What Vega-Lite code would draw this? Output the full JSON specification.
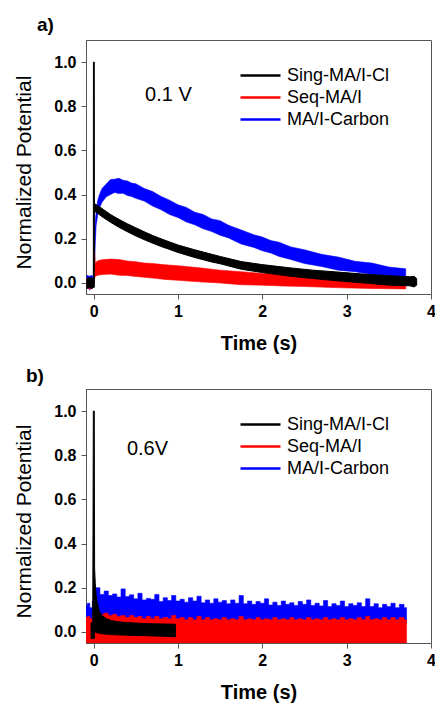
{
  "$schema": "https://vega.github.io/schema/vega-lite/v6.json",
  "padding": {"left": 13, "top": 15, "right": 0, "bottom": 0},
  "config": {
    "font": "Liberation Sans",
    "view": {"stroke": "#555", "strokeWidth": 1},
    "axis": {"domainColor": "#555", "tickColor": "#555", "tickSize": 5, "labelFont": "Liberation Sans", "labelFontSize": 16, "labelFontWeight": "bold", "labelColor": "#000", "titleFont": "Liberation Sans", "titleFontSize": 20, "titleColor": "#000", "titleFontWeight": "normal", "grid": false, "labelPadding": 4},
    "axisX": {"titleFontWeight": "bold", "titlePadding": 14, "labelFlush": false},
    "axisY": {"titlePadding": 19, "labelPadding": 5, "titleFontSize": 21, "titleY": 132},
    "legend": {"orient": "none", "legendX": 173, "legendY": 24, "symbolType": "M-3,0H1", "symbolSize": 400, "symbolStrokeWidth": 2.5, "labelFont": "Liberation Sans", "labelFontSize": 18, "labelColor": "#000", "labelOffset": 5, "rowPadding": 1}
  },
  "datasets": {
    "aB": [
      {"t": -0.08, "lo": -0.02, "hi": 0.035, "s": "MA/I-Carbon"},
      {"t": -0.05, "lo": -0.03, "hi": 0.03, "s": "MA/I-Carbon"},
      {"t": -0.02, "lo": -0.025, "hi": 0.035, "s": "MA/I-Carbon"},
      {"t": 0, "lo": -0.02, "hi": 0.02, "s": "MA/I-Carbon"},
      {"t": 0.01, "lo": 0.05, "hi": 0.2, "s": "MA/I-Carbon"},
      {"t": 0.02, "lo": 0.18, "hi": 0.28, "s": "MA/I-Carbon"},
      {"t": 0.03, "lo": 0.26, "hi": 0.32, "s": "MA/I-Carbon"},
      {"t": 0.05, "lo": 0.31, "hi": 0.375, "s": "MA/I-Carbon"},
      {"t": 0.07, "lo": 0.34, "hi": 0.4, "s": "MA/I-Carbon"},
      {"t": 0.1, "lo": 0.365, "hi": 0.428, "s": "MA/I-Carbon"},
      {"t": 0.15, "lo": 0.39, "hi": 0.448, "s": "MA/I-Carbon"},
      {"t": 0.2, "lo": 0.4, "hi": 0.468, "s": "MA/I-Carbon"},
      {"t": 0.25, "lo": 0.41, "hi": 0.47, "s": "MA/I-Carbon"},
      {"t": 0.3, "lo": 0.405, "hi": 0.474, "s": "MA/I-Carbon"},
      {"t": 0.35, "lo": 0.406, "hi": 0.465, "s": "MA/I-Carbon"},
      {"t": 0.4, "lo": 0.396, "hi": 0.462, "s": "MA/I-Carbon"},
      {"t": 0.45, "lo": 0.392, "hi": 0.452, "s": "MA/I-Carbon"},
      {"t": 0.5, "lo": 0.383, "hi": 0.449, "s": "MA/I-Carbon"},
      {"t": 0.6, "lo": 0.371, "hi": 0.428, "s": "MA/I-Carbon"},
      {"t": 0.7, "lo": 0.348, "hi": 0.414, "s": "MA/I-Carbon"},
      {"t": 0.8, "lo": 0.332, "hi": 0.392, "s": "MA/I-Carbon"},
      {"t": 0.9, "lo": 0.31, "hi": 0.375, "s": "MA/I-Carbon"},
      {"t": 1.0, "lo": 0.296, "hi": 0.354, "s": "MA/I-Carbon"},
      {"t": 1.1, "lo": 0.276, "hi": 0.342, "s": "MA/I-Carbon"},
      {"t": 1.2, "lo": 0.263, "hi": 0.32, "s": "MA/I-Carbon"},
      {"t": 1.3, "lo": 0.245, "hi": 0.31, "s": "MA/I-Carbon"},
      {"t": 1.4, "lo": 0.233, "hi": 0.29, "s": "MA/I-Carbon"},
      {"t": 1.5, "lo": 0.216, "hi": 0.282, "s": "MA/I-Carbon"},
      {"t": 1.6, "lo": 0.204, "hi": 0.261, "s": "MA/I-Carbon"},
      {"t": 1.75, "lo": 0.176, "hi": 0.24, "s": "MA/I-Carbon"},
      {"t": 1.9, "lo": 0.161, "hi": 0.218, "s": "MA/I-Carbon"},
      {"t": 2.0, "lo": 0.146, "hi": 0.208, "s": "MA/I-Carbon"},
      {"t": 2.1, "lo": 0.136, "hi": 0.192, "s": "MA/I-Carbon"},
      {"t": 2.2, "lo": 0.12, "hi": 0.184, "s": "MA/I-Carbon"},
      {"t": 2.34, "lo": 0.106, "hi": 0.163, "s": "MA/I-Carbon"},
      {"t": 2.5, "lo": 0.088, "hi": 0.15, "s": "MA/I-Carbon"},
      {"t": 2.7, "lo": 0.075, "hi": 0.13, "s": "MA/I-Carbon"},
      {"t": 2.9, "lo": 0.058, "hi": 0.117, "s": "MA/I-Carbon"},
      {"t": 3.1, "lo": 0.051, "hi": 0.098, "s": "MA/I-Carbon"},
      {"t": 3.3, "lo": 0.038, "hi": 0.09, "s": "MA/I-Carbon"},
      {"t": 3.5, "lo": 0.033, "hi": 0.072, "s": "MA/I-Carbon"},
      {"t": 3.7, "lo": 0.024, "hi": 0.064, "s": "MA/I-Carbon"}
    ],
    "aR": [
      {"t": -0.08, "lo": -0.02, "hi": 0.02, "s": "Seq-MA/I"},
      {"t": -0.04, "lo": -0.028, "hi": 0.015, "s": "Seq-MA/I"},
      {"t": -0.001, "lo": -0.02, "hi": 0.02, "s": "Seq-MA/I"},
      {"t": 0.005, "lo": -0.01, "hi": 0.16, "s": "Seq-MA/I"},
      {"t": 0.012, "lo": 0.02, "hi": 0.14, "s": "Seq-MA/I"},
      {"t": 0.02, "lo": 0.03, "hi": 0.09, "s": "Seq-MA/I"},
      {"t": 0.05, "lo": 0.035, "hi": 0.1, "s": "Seq-MA/I"},
      {"t": 0.1, "lo": 0.038, "hi": 0.105, "s": "Seq-MA/I"},
      {"t": 0.2, "lo": 0.04, "hi": 0.108, "s": "Seq-MA/I"},
      {"t": 0.3, "lo": 0.035, "hi": 0.106, "s": "Seq-MA/I"},
      {"t": 0.4, "lo": 0.034, "hi": 0.099, "s": "Seq-MA/I"},
      {"t": 0.5, "lo": 0.029, "hi": 0.096, "s": "Seq-MA/I"},
      {"t": 0.6, "lo": 0.026, "hi": 0.09, "s": "Seq-MA/I"},
      {"t": 0.7, "lo": 0.022, "hi": 0.088, "s": "Seq-MA/I"},
      {"t": 0.85, "lo": 0.016, "hi": 0.082, "s": "Seq-MA/I"},
      {"t": 1.0, "lo": 0.012, "hi": 0.078, "s": "Seq-MA/I"},
      {"t": 1.25, "lo": 0.005, "hi": 0.069, "s": "Seq-MA/I"},
      {"t": 1.5, "lo": 0.0, "hi": 0.058, "s": "Seq-MA/I"},
      {"t": 1.75, "lo": -0.008, "hi": 0.051, "s": "Seq-MA/I"},
      {"t": 2.0, "lo": -0.01, "hi": 0.043, "s": "Seq-MA/I"},
      {"t": 2.25, "lo": -0.014, "hi": 0.04, "s": "Seq-MA/I"},
      {"t": 2.5, "lo": -0.016, "hi": 0.036, "s": "Seq-MA/I"},
      {"t": 2.94, "lo": -0.022, "hi": 0.03, "s": "Seq-MA/I"},
      {"t": 3.3, "lo": -0.025, "hi": 0.027, "s": "Seq-MA/I"},
      {"t": 3.7, "lo": -0.027, "hi": 0.022, "s": "Seq-MA/I"}
    ],
    "aK": [
      {"t": -0.08, "lo": -0.025, "hi": 0.02, "s": "Sing-MA/I-Cl"},
      {"t": -0.05, "lo": -0.02, "hi": 0.025, "s": "Sing-MA/I-Cl"},
      {"t": -0.02, "lo": -0.025, "hi": 0.02, "s": "Sing-MA/I-Cl"},
      {"t": -0.003, "lo": -0.02, "hi": 0.02, "s": "Sing-MA/I-Cl"},
      {"t": -0.002, "lo": -0.02, "hi": 1.0, "s": "Sing-MA/I-Cl"},
      {"t": 0.008, "lo": -0.02, "hi": 1.0, "s": "Sing-MA/I-Cl"},
      {"t": 0.01, "lo": 0.325, "hi": 0.36, "s": "Sing-MA/I-Cl"},
      {"t": 0.05, "lo": 0.315, "hi": 0.35, "s": "Sing-MA/I-Cl"},
      {"t": 0.1, "lo": 0.3, "hi": 0.337, "s": "Sing-MA/I-Cl"},
      {"t": 0.2, "lo": 0.275, "hi": 0.31, "s": "Sing-MA/I-Cl"},
      {"t": 0.3, "lo": 0.252, "hi": 0.288, "s": "Sing-MA/I-Cl"},
      {"t": 0.4, "lo": 0.232, "hi": 0.268, "s": "Sing-MA/I-Cl"},
      {"t": 0.5, "lo": 0.213, "hi": 0.25, "s": "Sing-MA/I-Cl"},
      {"t": 0.6, "lo": 0.196, "hi": 0.232, "s": "Sing-MA/I-Cl"},
      {"t": 0.7, "lo": 0.18, "hi": 0.215, "s": "Sing-MA/I-Cl"},
      {"t": 0.8, "lo": 0.165, "hi": 0.2, "s": "Sing-MA/I-Cl"},
      {"t": 0.9, "lo": 0.152, "hi": 0.186, "s": "Sing-MA/I-Cl"},
      {"t": 1.0, "lo": 0.138, "hi": 0.172, "s": "Sing-MA/I-Cl"},
      {"t": 1.2, "lo": 0.115, "hi": 0.15, "s": "Sing-MA/I-Cl"},
      {"t": 1.4, "lo": 0.095, "hi": 0.13, "s": "Sing-MA/I-Cl"},
      {"t": 1.5, "lo": 0.087, "hi": 0.12, "s": "Sing-MA/I-Cl"},
      {"t": 1.75, "lo": 0.062, "hi": 0.097, "s": "Sing-MA/I-Cl"},
      {"t": 2.0, "lo": 0.047, "hi": 0.083, "s": "Sing-MA/I-Cl"},
      {"t": 2.34, "lo": 0.03, "hi": 0.068, "s": "Sing-MA/I-Cl"},
      {"t": 2.6, "lo": 0.02, "hi": 0.058, "s": "Sing-MA/I-Cl"},
      {"t": 2.94, "lo": 0.008, "hi": 0.048, "s": "Sing-MA/I-Cl"},
      {"t": 3.2, "lo": 0.0, "hi": 0.04, "s": "Sing-MA/I-Cl"},
      {"t": 3.5, "lo": -0.01, "hi": 0.033, "s": "Sing-MA/I-Cl"},
      {"t": 3.75, "lo": -0.013, "hi": 0.028, "s": "Sing-MA/I-Cl"},
      {"t": 3.8, "lo": -0.018, "hi": 0.03, "s": "Sing-MA/I-Cl"},
      {"t": 3.83, "lo": -0.01, "hi": 0.02, "s": "Sing-MA/I-Cl"}
    ],
    "bB": [
      {"t": -0.09, "lo": 0.04, "hi": 0.12, "s": "MA/I-Carbon"},
      {"t": -0.06, "lo": 0.04, "hi": 0.13, "s": "MA/I-Carbon"},
      {"t": -0.03, "lo": 0.04, "hi": 0.11, "s": "MA/I-Carbon"},
      {"t": 0.0, "lo": 0.04, "hi": 0.14, "s": "MA/I-Carbon"},
      {"t": 0.05, "lo": 0.04, "hi": 0.2, "s": "MA/I-Carbon"},
      {"t": 0.1, "lo": 0.04, "hi": 0.17, "s": "MA/I-Carbon"},
      {"t": 0.15, "lo": 0.04, "hi": 0.185, "s": "MA/I-Carbon"},
      {"t": 0.2, "lo": 0.04, "hi": 0.165, "s": "MA/I-Carbon"},
      {"t": 0.25, "lo": 0.04, "hi": 0.172, "s": "MA/I-Carbon"},
      {"t": 0.3, "lo": 0.04, "hi": 0.158, "s": "MA/I-Carbon"},
      {"t": 0.35, "lo": 0.04, "hi": 0.195, "s": "MA/I-Carbon"},
      {"t": 0.4, "lo": 0.04, "hi": 0.16, "s": "MA/I-Carbon"},
      {"t": 0.45, "lo": 0.04, "hi": 0.168, "s": "MA/I-Carbon"},
      {"t": 0.5, "lo": 0.04, "hi": 0.15, "s": "MA/I-Carbon"},
      {"t": 0.55, "lo": 0.04, "hi": 0.175, "s": "MA/I-Carbon"},
      {"t": 0.6, "lo": 0.04, "hi": 0.145, "s": "MA/I-Carbon"},
      {"t": 0.65, "lo": 0.04, "hi": 0.152, "s": "MA/I-Carbon"},
      {"t": 0.7, "lo": 0.04, "hi": 0.148, "s": "MA/I-Carbon"},
      {"t": 0.75, "lo": 0.04, "hi": 0.17, "s": "MA/I-Carbon"},
      {"t": 0.8, "lo": 0.04, "hi": 0.138, "s": "MA/I-Carbon"},
      {"t": 0.85, "lo": 0.04, "hi": 0.155, "s": "MA/I-Carbon"},
      {"t": 0.9, "lo": 0.04, "hi": 0.142, "s": "MA/I-Carbon"},
      {"t": 0.95, "lo": 0.04, "hi": 0.165, "s": "MA/I-Carbon"},
      {"t": 1.0, "lo": 0.04, "hi": 0.14, "s": "MA/I-Carbon"},
      {"t": 1.05, "lo": 0.04, "hi": 0.148, "s": "MA/I-Carbon"},
      {"t": 1.1, "lo": 0.04, "hi": 0.135, "s": "MA/I-Carbon"},
      {"t": 1.15, "lo": 0.04, "hi": 0.155, "s": "MA/I-Carbon"},
      {"t": 1.2, "lo": 0.04, "hi": 0.14, "s": "MA/I-Carbon"},
      {"t": 1.25, "lo": 0.04, "hi": 0.162, "s": "MA/I-Carbon"},
      {"t": 1.3, "lo": 0.04, "hi": 0.132, "s": "MA/I-Carbon"},
      {"t": 1.35, "lo": 0.04, "hi": 0.145, "s": "MA/I-Carbon"},
      {"t": 1.4, "lo": 0.04, "hi": 0.13, "s": "MA/I-Carbon"},
      {"t": 1.45, "lo": 0.04, "hi": 0.15, "s": "MA/I-Carbon"},
      {"t": 1.5, "lo": 0.04, "hi": 0.135, "s": "MA/I-Carbon"},
      {"t": 1.55, "lo": 0.04, "hi": 0.142, "s": "MA/I-Carbon"},
      {"t": 1.6, "lo": 0.04, "hi": 0.128, "s": "MA/I-Carbon"},
      {"t": 1.65, "lo": 0.04, "hi": 0.145, "s": "MA/I-Carbon"},
      {"t": 1.7, "lo": 0.04, "hi": 0.13, "s": "MA/I-Carbon"},
      {"t": 1.75, "lo": 0.04, "hi": 0.165, "s": "MA/I-Carbon"},
      {"t": 1.8, "lo": 0.04, "hi": 0.128, "s": "MA/I-Carbon"},
      {"t": 1.85, "lo": 0.04, "hi": 0.14, "s": "MA/I-Carbon"},
      {"t": 1.9, "lo": 0.04, "hi": 0.125, "s": "MA/I-Carbon"},
      {"t": 1.95, "lo": 0.04, "hi": 0.138, "s": "MA/I-Carbon"},
      {"t": 2.0, "lo": 0.04, "hi": 0.13, "s": "MA/I-Carbon"},
      {"t": 2.05, "lo": 0.04, "hi": 0.15, "s": "MA/I-Carbon"},
      {"t": 2.1, "lo": 0.04, "hi": 0.122, "s": "MA/I-Carbon"},
      {"t": 2.15, "lo": 0.04, "hi": 0.135, "s": "MA/I-Carbon"},
      {"t": 2.2, "lo": 0.04, "hi": 0.12, "s": "MA/I-Carbon"},
      {"t": 2.25, "lo": 0.04, "hi": 0.14, "s": "MA/I-Carbon"},
      {"t": 2.3, "lo": 0.04, "hi": 0.125, "s": "MA/I-Carbon"},
      {"t": 2.35, "lo": 0.04, "hi": 0.132, "s": "MA/I-Carbon"},
      {"t": 2.4, "lo": 0.04, "hi": 0.12, "s": "MA/I-Carbon"},
      {"t": 2.45, "lo": 0.04, "hi": 0.138, "s": "MA/I-Carbon"},
      {"t": 2.5, "lo": 0.04, "hi": 0.125, "s": "MA/I-Carbon"},
      {"t": 2.55, "lo": 0.04, "hi": 0.145, "s": "MA/I-Carbon"},
      {"t": 2.6, "lo": 0.04, "hi": 0.12, "s": "MA/I-Carbon"},
      {"t": 2.65, "lo": 0.04, "hi": 0.13, "s": "MA/I-Carbon"},
      {"t": 2.7, "lo": 0.04, "hi": 0.118, "s": "MA/I-Carbon"},
      {"t": 2.75, "lo": 0.04, "hi": 0.142, "s": "MA/I-Carbon"},
      {"t": 2.8, "lo": 0.04, "hi": 0.115, "s": "MA/I-Carbon"},
      {"t": 2.85, "lo": 0.04, "hi": 0.128, "s": "MA/I-Carbon"},
      {"t": 2.9, "lo": 0.04, "hi": 0.12, "s": "MA/I-Carbon"},
      {"t": 2.95, "lo": 0.04, "hi": 0.14, "s": "MA/I-Carbon"},
      {"t": 3.0, "lo": 0.04, "hi": 0.115, "s": "MA/I-Carbon"},
      {"t": 3.05, "lo": 0.04, "hi": 0.128, "s": "MA/I-Carbon"},
      {"t": 3.1, "lo": 0.04, "hi": 0.12, "s": "MA/I-Carbon"},
      {"t": 3.15, "lo": 0.04, "hi": 0.132, "s": "MA/I-Carbon"},
      {"t": 3.2, "lo": 0.04, "hi": 0.115, "s": "MA/I-Carbon"},
      {"t": 3.25, "lo": 0.04, "hi": 0.15, "s": "MA/I-Carbon"},
      {"t": 3.3, "lo": 0.04, "hi": 0.115, "s": "MA/I-Carbon"},
      {"t": 3.35, "lo": 0.04, "hi": 0.128, "s": "MA/I-Carbon"},
      {"t": 3.4, "lo": 0.04, "hi": 0.11, "s": "MA/I-Carbon"},
      {"t": 3.45, "lo": 0.04, "hi": 0.125, "s": "MA/I-Carbon"},
      {"t": 3.5, "lo": 0.04, "hi": 0.115, "s": "MA/I-Carbon"},
      {"t": 3.55, "lo": 0.04, "hi": 0.13, "s": "MA/I-Carbon"},
      {"t": 3.6, "lo": 0.04, "hi": 0.11, "s": "MA/I-Carbon"},
      {"t": 3.65, "lo": 0.04, "hi": 0.125, "s": "MA/I-Carbon"},
      {"t": 3.71, "lo": 0.04, "hi": 0.11, "s": "MA/I-Carbon"}
    ],
    "bR": [
      {"t": -0.09, "lo": -0.07, "hi": 0.065, "s": "Seq-MA/I"},
      {"t": -0.06, "lo": -0.07, "hi": 0.07, "s": "Seq-MA/I"},
      {"t": -0.03, "lo": -0.07, "hi": 0.06, "s": "Seq-MA/I"},
      {"t": 0.0, "lo": -0.07, "hi": 0.08, "s": "Seq-MA/I"},
      {"t": 0.05, "lo": -0.07, "hi": 0.09, "s": "Seq-MA/I"},
      {"t": 0.1, "lo": -0.07, "hi": 0.08, "s": "Seq-MA/I"},
      {"t": 0.15, "lo": -0.07, "hi": 0.085, "s": "Seq-MA/I"},
      {"t": 0.2, "lo": -0.07, "hi": 0.075, "s": "Seq-MA/I"},
      {"t": 0.25, "lo": -0.07, "hi": 0.08, "s": "Seq-MA/I"},
      {"t": 0.3, "lo": -0.07, "hi": 0.07, "s": "Seq-MA/I"},
      {"t": 0.35, "lo": -0.07, "hi": 0.075, "s": "Seq-MA/I"},
      {"t": 0.4, "lo": -0.07, "hi": 0.065, "s": "Seq-MA/I"},
      {"t": 0.45, "lo": -0.07, "hi": 0.075, "s": "Seq-MA/I"},
      {"t": 0.5, "lo": -0.07, "hi": 0.065, "s": "Seq-MA/I"},
      {"t": 0.55, "lo": -0.07, "hi": 0.07, "s": "Seq-MA/I"},
      {"t": 0.6, "lo": -0.07, "hi": 0.06, "s": "Seq-MA/I"},
      {"t": 0.65, "lo": -0.07, "hi": 0.07, "s": "Seq-MA/I"},
      {"t": 0.7, "lo": -0.07, "hi": 0.06, "s": "Seq-MA/I"},
      {"t": 0.75, "lo": -0.07, "hi": 0.07, "s": "Seq-MA/I"},
      {"t": 0.8, "lo": -0.07, "hi": 0.06, "s": "Seq-MA/I"},
      {"t": 0.85, "lo": -0.07, "hi": 0.065, "s": "Seq-MA/I"},
      {"t": 0.9, "lo": -0.07, "hi": 0.06, "s": "Seq-MA/I"},
      {"t": 0.95, "lo": -0.07, "hi": 0.075, "s": "Seq-MA/I"},
      {"t": 1.0, "lo": -0.07, "hi": 0.06, "s": "Seq-MA/I"},
      {"t": 1.05, "lo": -0.07, "hi": 0.065, "s": "Seq-MA/I"},
      {"t": 1.1, "lo": -0.07, "hi": 0.055, "s": "Seq-MA/I"},
      {"t": 1.15, "lo": -0.07, "hi": 0.065, "s": "Seq-MA/I"},
      {"t": 1.2, "lo": -0.07, "hi": 0.055, "s": "Seq-MA/I"},
      {"t": 1.25, "lo": -0.07, "hi": 0.07, "s": "Seq-MA/I"},
      {"t": 1.3, "lo": -0.07, "hi": 0.055, "s": "Seq-MA/I"},
      {"t": 1.35, "lo": -0.07, "hi": 0.065, "s": "Seq-MA/I"},
      {"t": 1.4, "lo": -0.07, "hi": 0.055, "s": "Seq-MA/I"},
      {"t": 1.45, "lo": -0.07, "hi": 0.06, "s": "Seq-MA/I"},
      {"t": 1.5, "lo": -0.07, "hi": 0.055, "s": "Seq-MA/I"},
      {"t": 1.55, "lo": -0.07, "hi": 0.065, "s": "Seq-MA/I"},
      {"t": 1.6, "lo": -0.07, "hi": 0.055, "s": "Seq-MA/I"},
      {"t": 1.65, "lo": -0.07, "hi": 0.06, "s": "Seq-MA/I"},
      {"t": 1.7, "lo": -0.07, "hi": 0.055, "s": "Seq-MA/I"},
      {"t": 1.75, "lo": -0.07, "hi": 0.07, "s": "Seq-MA/I"},
      {"t": 1.8, "lo": -0.07, "hi": 0.055, "s": "Seq-MA/I"},
      {"t": 1.85, "lo": -0.07, "hi": 0.06, "s": "Seq-MA/I"},
      {"t": 1.9, "lo": -0.07, "hi": 0.055, "s": "Seq-MA/I"},
      {"t": 1.95, "lo": -0.07, "hi": 0.065, "s": "Seq-MA/I"},
      {"t": 2.0, "lo": -0.07, "hi": 0.055, "s": "Seq-MA/I"},
      {"t": 2.05, "lo": -0.07, "hi": 0.06, "s": "Seq-MA/I"},
      {"t": 2.1, "lo": -0.07, "hi": 0.055, "s": "Seq-MA/I"},
      {"t": 2.15, "lo": -0.07, "hi": 0.065, "s": "Seq-MA/I"},
      {"t": 2.2, "lo": -0.07, "hi": 0.055, "s": "Seq-MA/I"},
      {"t": 2.25, "lo": -0.07, "hi": 0.06, "s": "Seq-MA/I"},
      {"t": 2.3, "lo": -0.07, "hi": 0.055, "s": "Seq-MA/I"},
      {"t": 2.35, "lo": -0.07, "hi": 0.065, "s": "Seq-MA/I"},
      {"t": 2.4, "lo": -0.07, "hi": 0.055, "s": "Seq-MA/I"},
      {"t": 2.45, "lo": -0.07, "hi": 0.06, "s": "Seq-MA/I"},
      {"t": 2.5, "lo": -0.07, "hi": 0.055, "s": "Seq-MA/I"},
      {"t": 2.55, "lo": -0.07, "hi": 0.065, "s": "Seq-MA/I"},
      {"t": 2.6, "lo": -0.07, "hi": 0.055, "s": "Seq-MA/I"},
      {"t": 2.65, "lo": -0.07, "hi": 0.06, "s": "Seq-MA/I"},
      {"t": 2.7, "lo": -0.07, "hi": 0.055, "s": "Seq-MA/I"},
      {"t": 2.75, "lo": -0.07, "hi": 0.065, "s": "Seq-MA/I"},
      {"t": 2.8, "lo": -0.07, "hi": 0.055, "s": "Seq-MA/I"},
      {"t": 2.85, "lo": -0.07, "hi": 0.06, "s": "Seq-MA/I"},
      {"t": 2.9, "lo": -0.07, "hi": 0.055, "s": "Seq-MA/I"},
      {"t": 2.95, "lo": -0.07, "hi": 0.065, "s": "Seq-MA/I"},
      {"t": 3.0, "lo": -0.07, "hi": 0.055, "s": "Seq-MA/I"},
      {"t": 3.05, "lo": -0.07, "hi": 0.06, "s": "Seq-MA/I"},
      {"t": 3.1, "lo": -0.07, "hi": 0.055, "s": "Seq-MA/I"},
      {"t": 3.15, "lo": -0.07, "hi": 0.065, "s": "Seq-MA/I"},
      {"t": 3.2, "lo": -0.07, "hi": 0.055, "s": "Seq-MA/I"},
      {"t": 3.25, "lo": -0.07, "hi": 0.07, "s": "Seq-MA/I"},
      {"t": 3.3, "lo": -0.07, "hi": 0.055, "s": "Seq-MA/I"},
      {"t": 3.35, "lo": -0.07, "hi": 0.06, "s": "Seq-MA/I"},
      {"t": 3.4, "lo": -0.07, "hi": 0.055, "s": "Seq-MA/I"},
      {"t": 3.45, "lo": -0.07, "hi": 0.065, "s": "Seq-MA/I"},
      {"t": 3.5, "lo": -0.07, "hi": 0.055, "s": "Seq-MA/I"},
      {"t": 3.55, "lo": -0.07, "hi": 0.065, "s": "Seq-MA/I"},
      {"t": 3.6, "lo": -0.07, "hi": 0.055, "s": "Seq-MA/I"},
      {"t": 3.65, "lo": -0.07, "hi": 0.065, "s": "Seq-MA/I"},
      {"t": 3.71, "lo": -0.07, "hi": 0.055, "s": "Seq-MA/I"}
    ],
    "bK": [
      {"t": -0.03, "lo": -0.03, "hi": 0.04, "s": "Sing-MA/I-Cl"},
      {"t": -0.01, "lo": -0.03, "hi": 0.045, "s": "Sing-MA/I-Cl"},
      {"t": -0.003, "lo": -0.03, "hi": 1.0, "s": "Sing-MA/I-Cl"},
      {"t": 0.008, "lo": -0.03, "hi": 1.0, "s": "Sing-MA/I-Cl"},
      {"t": 0.012, "lo": 0.0, "hi": 0.29, "s": "Sing-MA/I-Cl"},
      {"t": 0.02, "lo": 0.0, "hi": 0.22, "s": "Sing-MA/I-Cl"},
      {"t": 0.03, "lo": -0.002, "hi": 0.165, "s": "Sing-MA/I-Cl"},
      {"t": 0.05, "lo": -0.005, "hi": 0.12, "s": "Sing-MA/I-Cl"},
      {"t": 0.07, "lo": -0.006, "hi": 0.092, "s": "Sing-MA/I-Cl"},
      {"t": 0.1, "lo": -0.008, "hi": 0.075, "s": "Sing-MA/I-Cl"},
      {"t": 0.15, "lo": -0.01, "hi": 0.06, "s": "Sing-MA/I-Cl"},
      {"t": 0.2, "lo": -0.012, "hi": 0.053, "s": "Sing-MA/I-Cl"},
      {"t": 0.27, "lo": -0.013, "hi": 0.047, "s": "Sing-MA/I-Cl"},
      {"t": 0.35, "lo": -0.014, "hi": 0.044, "s": "Sing-MA/I-Cl"},
      {"t": 0.5, "lo": -0.016, "hi": 0.04, "s": "Sing-MA/I-Cl"},
      {"t": 0.7, "lo": -0.018, "hi": 0.037, "s": "Sing-MA/I-Cl"},
      {"t": 0.85, "lo": -0.02, "hi": 0.036, "s": "Sing-MA/I-Cl"},
      {"t": 0.97, "lo": -0.022, "hi": 0.035, "s": "Sing-MA/I-Cl"}
    ]
  },
  "spacing": 95,
  "bounds": "flush",
  "resolve": {"scale": {"fill": "independent", "stroke": "independent"}, "legend": {"fill": "independent", "stroke": "independent"}},
  "vconcat": [
    {
      "width": 345,
      "height": 254,
      "title": {"text": "a)", "anchor": "start", "frame": "group", "dx": -49, "offset": 5, "fontSize": 19, "fontWeight": "bold", "font": "Liberation Sans", "color": "#000"},
      "encoding": {
        "x": {"field": "t", "type": "quantitative", "scale": {"domain": [-0.09, 4.0], "nice": false, "zero": false}, "axis": {"title": "Time (s)", "values": [0, 1, 2, 3, 4], "format": "d"}},
        "y": {"field": "lo", "type": "quantitative", "scale": {"domain": [-0.05, 1.1], "nice": false, "zero": false}, "axis": {"title": "Normalized Potential", "values": [0, 0.2, 0.4, 0.6, 0.8, 1.0], "format": ".1f"}}
      },
      "layer": [
        {"data": {"name": "aB"}, "mark": {"type": "area", "clip": true, "strokeWidth": 0.6},
         "encoding": {"y2": {"field": "hi"},
           "fill": {"field": "s", "type": "nominal", "title": null, "scale": {"domain": ["Sing-MA/I-Cl", "Seq-MA/I", "MA/I-Carbon"], "range": ["#000000", "#ff0000", "#0000ff"]}},
           "stroke": {"field": "s", "type": "nominal", "title": null, "scale": {"domain": ["Sing-MA/I-Cl", "Seq-MA/I", "MA/I-Carbon"], "range": ["#000000", "#ff0000", "#0000ff"]}}}},
        {"data": {"name": "aR"}, "mark": {"type": "area", "clip": true, "strokeWidth": 0.6},
         "encoding": {"y2": {"field": "hi"},
           "fill": {"field": "s", "type": "nominal", "title": null, "scale": {"domain": ["Sing-MA/I-Cl", "Seq-MA/I", "MA/I-Carbon"], "range": ["#000000", "#ff0000", "#0000ff"]}},
           "stroke": {"field": "s", "type": "nominal", "title": null, "scale": {"domain": ["Sing-MA/I-Cl", "Seq-MA/I", "MA/I-Carbon"], "range": ["#000000", "#ff0000", "#0000ff"]}}}},
        {"data": {"name": "aK"}, "mark": {"type": "area", "clip": true, "strokeWidth": 1},
         "encoding": {"y2": {"field": "hi"},
           "fill": {"field": "s", "type": "nominal", "title": null, "scale": {"domain": ["Sing-MA/I-Cl", "Seq-MA/I", "MA/I-Carbon"], "range": ["#000000", "#ff0000", "#0000ff"]}},
           "stroke": {"field": "s", "type": "nominal", "title": null, "scale": {"domain": ["Sing-MA/I-Cl", "Seq-MA/I", "MA/I-Carbon"], "range": ["#000000", "#ff0000", "#0000ff"]}}}},
        {"data": {"values": [{"t": 0.61, "lo": 0.85, "label": "0.1 V"}]}, "mark": {"type": "text", "align": "left", "baseline": "middle", "fontSize": 20, "font": "Liberation Sans", "color": "#000"},
         "encoding": {"text": {"field": "label"}}}
      ]
    },
    {
      "width": 345,
      "height": 254,
      "title": {"text": "b)", "anchor": "start", "frame": "group", "dx": -60, "offset": 3, "fontSize": 19, "fontWeight": "bold", "font": "Liberation Sans", "color": "#000"},
      "encoding": {
        "x": {"field": "t", "type": "quantitative", "scale": {"domain": [-0.09, 4.0], "nice": false, "zero": false}, "axis": {"title": "Time (s)", "values": [0, 1, 2, 3, 4], "format": "d"}},
        "y": {"field": "lo", "type": "quantitative", "scale": {"domain": [-0.05, 1.1], "nice": false, "zero": false}, "axis": {"title": "Normalized Potential", "values": [0, 0.2, 0.4, 0.6, 0.8, 1.0], "format": ".1f"}}
      },
      "layer": [
        {"data": {"name": "bB"}, "mark": {"type": "area", "clip": true, "strokeWidth": 0.6, "interpolate": "step"},
         "encoding": {"y2": {"field": "hi"},
           "fill": {"field": "s", "type": "nominal", "title": null, "scale": {"domain": ["Sing-MA/I-Cl", "Seq-MA/I", "MA/I-Carbon"], "range": ["#000000", "#ff0000", "#0000ff"]}},
           "stroke": {"field": "s", "type": "nominal", "title": null, "scale": {"domain": ["Sing-MA/I-Cl", "Seq-MA/I", "MA/I-Carbon"], "range": ["#000000", "#ff0000", "#0000ff"]}}}},
        {"data": {"name": "bR"}, "mark": {"type": "area", "clip": true, "strokeWidth": 0.6, "interpolate": "step"},
         "encoding": {"y2": {"field": "hi"},
           "fill": {"field": "s", "type": "nominal", "title": null, "scale": {"domain": ["Sing-MA/I-Cl", "Seq-MA/I", "MA/I-Carbon"], "range": ["#000000", "#ff0000", "#0000ff"]}},
           "stroke": {"field": "s", "type": "nominal", "title": null, "scale": {"domain": ["Sing-MA/I-Cl", "Seq-MA/I", "MA/I-Carbon"], "range": ["#000000", "#ff0000", "#0000ff"]}}}},
        {"data": {"name": "bK"}, "mark": {"type": "area", "clip": true, "strokeWidth": 1},
         "encoding": {"y2": {"field": "hi"},
           "fill": {"field": "s", "type": "nominal", "title": null, "scale": {"domain": ["Sing-MA/I-Cl", "Seq-MA/I", "MA/I-Carbon"], "range": ["#000000", "#ff0000", "#0000ff"]}},
           "stroke": {"field": "s", "type": "nominal", "title": null, "scale": {"domain": ["Sing-MA/I-Cl", "Seq-MA/I", "MA/I-Carbon"], "range": ["#000000", "#ff0000", "#0000ff"]}}}},
        {"data": {"values": [{"t": 0.395, "lo": 0.827, "label": "0.6V"}]}, "mark": {"type": "text", "align": "left", "baseline": "middle", "fontSize": 20, "font": "Liberation Sans", "color": "#000"},
         "encoding": {"text": {"field": "label"}}}
      ]
    }
  ]
}
